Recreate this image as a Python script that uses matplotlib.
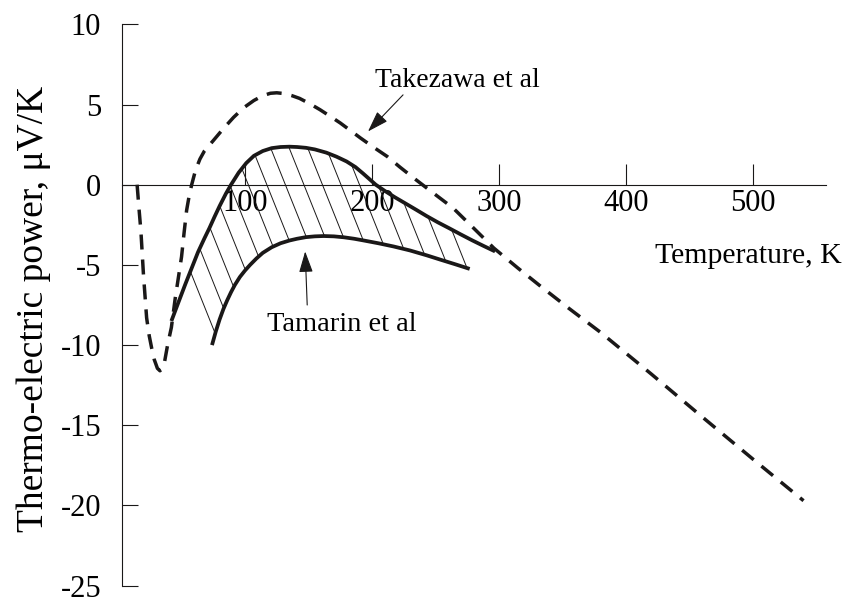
import numpy as np
import matplotlib
matplotlib.use("Agg")
import matplotlib.pyplot as plt
from matplotlib.collections import LineCollection
from matplotlib.path import Path

plt.rcParams['font.family'] = ['Liberation Serif', 'DejaVu Serif']
plt.rcParams['lines.scale_dashes'] = False

# Takezawa et al (dashed)
takezawa_T = [15, 16.5, 18, 20, 22.5, 24.5, 26.5, 28.5, 31, 33, 35, 36.5, 39, 42,
              45, 47.5, 50, 52, 54, 56, 58, 61, 64.5, 68, 75, 83, 91, 99, 107,
              114, 120, 125, 131, 137, 143, 151, 159, 167, 175, 183, 191, 201,
              212, 222, 233, 248, 264, 280, 296, 315, 333, 355, 380, 420, 459,
              500, 540]
takezawa_V = [0.0, -1.5, -2.9, -5.6, -8.3, -9.4, -10.2, -10.9, -11.45, -11.6,
              -11.45, -11.1, -10.0, -8.9, -7.1, -5.8, -4.5, -3.0, -1.6, -0.7, 0.0,
              0.9, 1.6, 2.1, 2.75, 3.5, 4.2, 4.8, 5.25, 5.55, 5.7, 5.73, 5.68,
              5.55, 5.38, 5.05, 4.68, 4.27, 3.85, 3.38, 2.91, 2.35, 1.76, 1.1,
              0.41, -0.5, -1.46, -2.7, -3.95, -5.2, -6.34, -7.7, -9.2, -11.8,
              -14.4, -17.1, -19.7]

# Tamarin et al, upper bound
upper_T = [42, 47, 53, 58, 63, 68, 72, 76, 80, 85, 89, 95, 101, 107, 114, 121,
           128, 135, 141, 148, 155, 164, 172, 180, 187, 193, 198, 203, 210, 218,
           226, 235, 243, 252, 261, 270, 279, 288, 297]
upper_V = [-8.5, -7.45, -6.2, -5.2, -4.2, -3.35, -2.7, -2.0, -1.33, -0.55, 0.0,
           0.75, 1.35, 1.8, 2.1, 2.28, 2.35, 2.37, 2.35, 2.3, 2.2, 2.0, 1.75,
           1.45, 1.1, 0.7, 0.35, 0.0, -0.38, -0.78, -1.15, -1.57, -1.95, -2.35,
           -2.72, -3.1, -3.47, -3.82, -4.16]

# Tamarin et al, lower bound
lower_T = [74, 77, 80, 83, 86, 89, 92, 96, 100, 104, 109, 114, 121, 128, 135,
           141, 148, 155, 162, 170, 178, 186, 193, 205, 217, 230, 243, 255, 266,
           277]
lower_V = [-10.0, -9.15, -8.4, -7.75, -7.2, -6.7, -6.25, -5.75, -5.35, -5.0,
           -4.6, -4.25, -3.9, -3.65, -3.48, -3.37, -3.27, -3.22, -3.2, -3.22,
           -3.28, -3.37, -3.47, -3.65, -3.85, -4.1, -4.4, -4.7, -4.97, -5.25]

x_ticks = [100, 200, 300, 400, 500]
x_tick_labels = ['100', '200', '300', '400', '500']
y_ticks = [-25, -20, -15, -10, -5, 0, 5, 10]
y_tick_labels = ['-25', '-20', '-15', '-10', '-5', '0', '5', '10']

ink = '#1a1818'

fig = plt.figure(figsize=(8.5, 6.02), dpi=100)
ax = fig.add_axes([122 / 850, 16.3 / 602, 704 / 850, 561.4 / 602])
ax.set_xlim(3.1, 557.7)
ax.set_ylim(-25, 10)

for side in ('top', 'right'):
    ax.spines[side].set_visible(False)
ax.spines['bottom'].set_position(('data', 0))
for side in ('bottom', 'left'):
    ax.spines[side].set_linewidth(0.8)
    ax.spines[side].set_color(ink)

ax.set_xticks(x_ticks)
ax.set_xticklabels(x_tick_labels)
ax.set_yticks(y_ticks)
ax.set_yticklabels(y_tick_labels)
ax.tick_params(axis='x', direction='in', length=15, width=0.8, pad=3,
               labelsize=22, color=ink)
ax.tick_params(axis='y', direction='in', length=11.5, width=0.8, pad=15,
               labelsize=22, color=ink)

# hatched band between the two Tamarin curves; its ends are closed along
# the hatch direction so the first and last strokes run corner to corner
slant = 5.06      # K per uV/K along a hatch stroke
step = 14.6       # K between strokes
fine_T = np.linspace(upper_T[0], upper_T[-1], 2000)
fine_hi = np.interp(fine_T, upper_T, upper_V)
left_end = fine_T[np.argmin(np.abs(fine_T + slant * (fine_hi - lower_V[0])
                                   - lower_T[0]))]
right_end = fine_T[np.argmin(np.abs(fine_T + slant * (fine_hi - lower_V[-1])
                                    - lower_T[-1]))]
keep = (fine_T >= left_end) & (fine_T <= right_end)
outline = np.vstack([
    np.column_stack([fine_T[keep], fine_hi[keep]]),
    np.column_stack([lower_T[::-1], lower_V[::-1]]),
])
band = Path(np.vstack([outline, outline[:1]]), closed=True)

starts = np.arange(29.6 - 3 * step, 330, step)
segs = [[(t0 - slant * 6, 6), (t0 + slant * 14, -14)] for t0 in starts]
hatch = LineCollection(segs, colors=ink, linewidths=0.7)
ax.add_collection(hatch)
hatch.set_clip_path(band, ax.transData)

ax.plot(upper_T, upper_V, color=ink, lw=2.7, solid_joinstyle='round',
        solid_capstyle='butt')
ax.plot(lower_T, lower_V, color=ink, lw=2.7, solid_joinstyle='round',
        solid_capstyle='butt')
ax.plot(takezawa_T, takezawa_V, color=ink, lw=2.5, dashes=(10.8, 7.2),
        dash_capstyle='butt', dash_joinstyle='round')

arrow_style = dict(arrowstyle='-|>,head_length=1.3,head_width=0.43',
                   color=ink, lw=0.8, shrinkA=0, shrinkB=0, mutation_scale=10)
ax.annotate('', xy=(196.9, 3.32), xytext=(224.5, 5.6), arrowprops=arrow_style)
ax.annotate('', xy=(147.4, -4.16), xytext=(149.0, -7.5), arrowprops=arrow_style)

ax.text(202.5, 6.12, 'Takezawa et al', fontsize=20, color='black',
        ha='left', va='baseline')
ax.text(117.1, -9.15, 'Tamarin et al', fontsize=20.5, color='black',
        ha='left', va='baseline')
ax.text(570.5, -4.9, 'Temperature, K', fontsize=21.5, color='black',
        ha='right', va='baseline', clip_on=False)

fig.text(34 / 850, 1 - 308.5 / 602, 'Thermo-electric power, \u03bcV/K',
         fontsize=27, rotation=90, ha='center', va='center', color='black')

fig.savefig('out.png', dpi=100, facecolor='white')
